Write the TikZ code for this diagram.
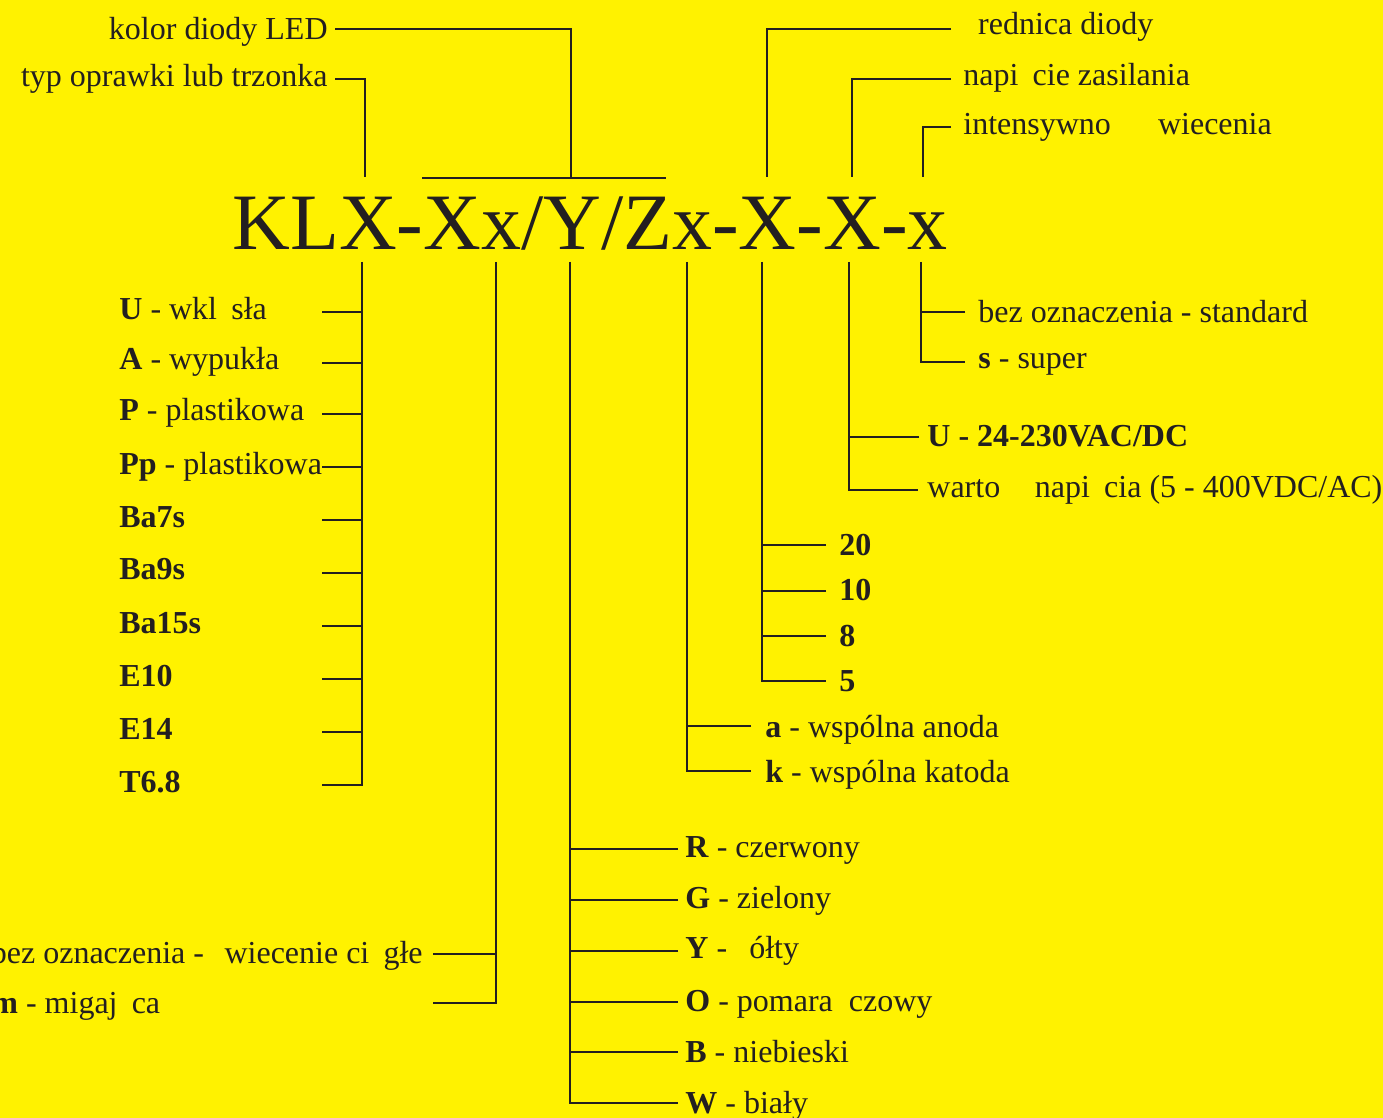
\documentclass[tikz,border=0pt]{standalone}
\usepackage{fontspec}
\setmainfont{Liberation Serif}
\usepackage{tikz}
\definecolor{tlo}{RGB}{255,242,0}
\definecolor{tusz}{RGB}{35,31,32}
\newcommand{\brak}[1]{\phantom{#1}}
\tikzset{
	opis/.style={anchor=base west, inner sep=0pt, text=tusz, font=\fontsize{16}{19}\selectfont},
	opisL/.style={opis, anchor=base east},
	kod/.style={anchor=base west, inner sep=0pt, text=tusz, font=\fontsize{40}{48}\selectfont},
	linia/.style={line width=1.4pt, draw=tusz},
}

\begin{document}
\begin{tikzpicture}[x=0.5pt,y=-0.5pt]
		\fill[tlo] (0,0) rectangle (1383,1118);
		\useasboundingbox (0,0) rectangle (1383,1118);
		% oznaczenie
		\node[kod] (kod) at (232,250) {KLX-Xx/Y/Zx-X-X-x};
		% opisy u gory
		\node[opisL] (kolor) at (328,40) {kolor diody LED};
		\node[opisL] (typ) at (328,87) {typ oprawki lub trzonka};
		\node[opis] (sred) at (960,35) {\brak{Ś}rednica diody};
		\node[opis] (napiecie) at (963,86) {napi\brak{ę}cie zasilania};
		\node[opis] (intens) at (963,135) {intensywno\brak{ść} \brak{ś}wiecenia};
		\coordinate (kolorA) at (335,29);
		\coordinate (belkaS) at (571,178);
		\coordinate (belkaL) at (422,178);
		\coordinate (belkaP) at (666,178);
		\coordinate (typA) at (335,79);
		\coordinate (typB) at (365,177);
		\coordinate (sredA) at (951,29);
		\coordinate (sredB) at (767,177);
		\coordinate (napA) at (951,79);
		\coordinate (napB) at (852,177);
		\coordinate (intA) at (951,127);
		\coordinate (intB) at (923,177);
		\draw[linia] (kolorA) -| (belkaS);
		\draw[linia] (belkaL) -- (belkaP);
		\draw[linia] (typA) -| (typB);
		\draw[linia] (sredA) -| (sredB);
		\draw[linia] (napA) -| (napB);
		\draw[linia] (intA) -| (intB);
		% pnie pod oznaczeniem
		\coordinate (pTrz) at (362,262);
		\coordinate (pMig) at (496,262);
		\coordinate (pKol) at (570,262);
		\coordinate (pAno) at (687,262);
		\coordinate (pSre) at (762,262);
		\coordinate (pNap) at (849,262);
		\coordinate (pInt) at (921,262);
		% typ oprawki
		\node[opis] (lU) at (119,320) {\textbf{U} - wkl\brak{ę}sła};
		\node[opis] (lA) at (119,370) {\textbf{A} - wypukła};
		\node[opis] (lP) at (119,421) {\textbf{P} - plastikowa};
		\node[opis] (lPp) at (119,474) {\textbf{Pp} - plastikowa};
		\node[opis] (lBa7) at (119,527) {\textbf{Ba7s}};
		\node[opis] (lBa9) at (119,580) {\textbf{Ba9s}};
		\node[opis] (lBa15) at (119,633) {\textbf{Ba15s}};
		\node[opis] (lE10) at (119,686) {\textbf{E10}};
		\node[opis] (lE14) at (119,739) {\textbf{E14}};
		\node[opis] (lT) at (119,792) {\textbf{T6.8}};
		\coordinate (cU) at (322,312);
		\coordinate (cA) at (322,363);
		\coordinate (cP) at (322,414);
		\coordinate (cPp) at (322,467);
		\coordinate (cBa7) at (322,520);
		\coordinate (cBa9) at (322,573);
		\coordinate (cBa15) at (322,626);
		\coordinate (cE10) at (322,679);
		\coordinate (cE14) at (322,732);
		\coordinate (cT) at (322,785);
		\draw[linia] (pTrz) -- (cT -| pTrz) -- (cT);
		\draw[linia] (cU) -- (cU -| pTrz);
		\draw[linia] (cA) -- (cA -| pTrz);
		\draw[linia] (cP) -- (cP -| pTrz);
		\draw[linia] (cPp) -- (cPp -| pTrz);
		\draw[linia] (cBa7) -- (cBa7 -| pTrz);
		\draw[linia] (cBa9) -- (cBa9 -| pTrz);
		\draw[linia] (cBa15) -- (cBa15 -| pTrz);
		\draw[linia] (cE10) -- (cE10 -| pTrz);
		\draw[linia] (cE14) -- (cE14 -| pTrz);
		% miganie
		\node[opisL] (lCiagle) at (423,963) {bez oznaczenia - \brak{ś}wiecenie ci\brak{ą}głe};
		\node[opis] (lMig) at (-9,1013) {\textbf{m} - migaj\brak{ą}ca};
		\coordinate (cCiagle) at (433,954);
		\coordinate (cMig) at (433,1003);
		\draw[linia] (pMig) -- (cMig -| pMig) -- (cMig);
		\draw[linia] (cCiagle) -- (cCiagle -| pMig);
		% kolor
		\node[opis] (lR) at (685,857) {\textbf{R} - czerwony};
		\node[opis] (lG) at (685,908) {\textbf{G} - zielony};
		\node[opis] (lY) at (685,958) {\textbf{Y} - \brak{ż}ółty};
		\node[opis] (lO) at (685,1011) {\textbf{O} - pomara\brak{ń}czowy};
		\node[opis] (lB) at (685,1062) {\textbf{B} - niebieski};
		\node[opis] (lW) at (685,1113) {\textbf{W} - biały};
		\coordinate (cR) at (678,849);
		\coordinate (cG) at (678,900);
		\coordinate (cY) at (678,951);
		\coordinate (cO) at (678,1002);
		\coordinate (cB) at (678,1052);
		\coordinate (cW) at (678,1103);
		\draw[linia] (pKol) -- (cW -| pKol) -- (cW);
		\draw[linia] (cR) -- (cR -| pKol);
		\draw[linia] (cG) -- (cG -| pKol);
		\draw[linia] (cY) -- (cY -| pKol);
		\draw[linia] (cO) -- (cO -| pKol);
		\draw[linia] (cB) -- (cB -| pKol);
		% anoda / katoda
		\node[opis] (la) at (765,737) {\textbf{a} - wspólna anoda};
		\node[opis] (lk) at (765,782) {\textbf{k} - wspólna katoda};
		\coordinate (ca) at (751,726);
		\coordinate (ck) at (751,771);
		\draw[linia] (pAno) -- (ck -| pAno) -- (ck);
		\draw[linia] (ca) -- (ca -| pAno);
		% srednica
		\node[opis] (l20) at (839,555) {\textbf{20}};
		\node[opis] (l10) at (839,600) {\textbf{10}};
		\node[opis] (l8) at (839,646) {\textbf{8}};
		\node[opis] (l5) at (839,691) {\textbf{5}};
		\coordinate (c20) at (826,545);
		\coordinate (c10) at (826,591);
		\coordinate (c8) at (826,636);
		\coordinate (c5) at (826,681);
		\draw[linia] (pSre) -- (c5 -| pSre) -- (c5);
		\draw[linia] (c20) -- (c20 -| pSre);
		\draw[linia] (c10) -- (c10 -| pSre);
		\draw[linia] (c8) -- (c8 -| pSre);
		% napiecie
		\node[opis] (lUac) at (927,447) {\textbf{U - 24-230VAC/DC}};
		\node[opis] (lWart) at (927,497) {warto\brak{ść} napi\brak{ę}cia (5 - 400VDC/AC)};
		\coordinate (cUac) at (919,437);
		\coordinate (cWart) at (918,490);
		\draw[linia] (pNap) -- (cWart -| pNap) -- (cWart);
		\draw[linia] (cUac) -- (cUac -| pNap);
		% intensywnosc
		\node[opis] (lStd) at (978,323) {bez oznaczenia - standard};
		\node[opis] (lSup) at (978,369) {\textbf{s} - super};
		\coordinate (cStd) at (965,312);
		\coordinate (cSup) at (965,362);
		\draw[linia] (pInt) -- (cSup -| pInt) -- (cSup);
		\draw[linia] (cStd) -- (cStd -| pInt);
\end{tikzpicture}
\end{document}
